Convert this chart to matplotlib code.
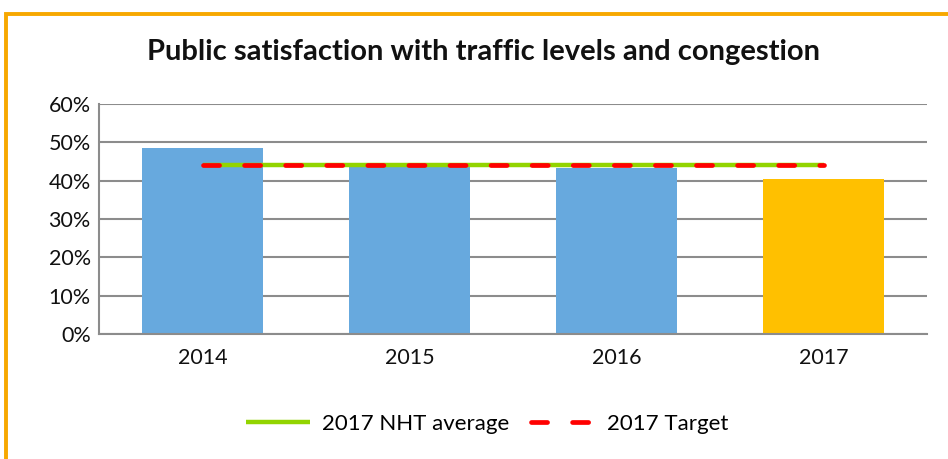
import numpy as np
import matplotlib.pyplot as plt
from matplotlib.patches import Rectangle
from matplotlib.ticker import PercentFormatter

plt.rcParams['font.family'] = ['Lato', 'DejaVu Sans']

# data
years = ['2014', '2015', '2016', '2017']
satisfaction = [48.5, 43.5, 43.4, 40.4]
bar_colors = ['#67a9de', '#67a9de', '#67a9de', '#ffc000']
nht_average = [44.2, 44.2, 44.2, 44.2]
target_2017 = [44.2, 44.2, 44.2, 44.2]

fig = plt.figure(figsize=(9.48, 4.59), dpi=100)
W, H = 948, 459
ax = fig.add_axes([99 / W, 1 - 334 / H, (927 - 99) / W, (334 - 104) / H])

x = np.arange(len(years))
ax.bar(x, satisfaction, width=0.58, color=bar_colors, zorder=2)
ax.plot(x, nht_average, color='#92d400', lw=3.2, label='2017 NHT average', zorder=3,
        solid_capstyle='butt')
ax.plot(x, target_2017, color='#ff0000', lw=3.4, label='2017 Target', zorder=4,
        linestyle=(0, (3.4, 5.3)), dash_capstyle='round')

ax.set_xlim(-0.5, 3.5)
ax.set_ylim(0, 60)
ax.set_yticks(range(0, 61, 10))
ax.yaxis.set_major_formatter(PercentFormatter(decimals=0))
ax.set_xticks(x)
ax.set_xticklabels(years)
ax.grid(axis='y', color='#8c8c8c', lw=1.5, zorder=0)
for s in ['top', 'right']:
    ax.spines[s].set_visible(False)
for s in ['left', 'bottom']:
    ax.spines[s].set_color('#8c8c8c')
    ax.spines[s].set_linewidth(1.5)
ax.tick_params(axis='both', length=0, labelsize=15.5, colors='#111111')
ax.tick_params(axis='y', pad=6)
ax.tick_params(axis='x', pad=10)

fig.text(483 / W, 1 - 52 / H, 'Public satisfaction with traffic levels and congestion',
         ha='center', va='center', fontsize=21, fontweight='bold', color='#111111')

leg = fig.legend(loc='center', bbox_to_anchor=(487 / W, 1 - 424 / H), ncol=2, frameon=False,
                 fontsize=16, handlelength=2.9, columnspacing=1.0, handletextpad=0.5)

# orange outer border
fig.patches.append(Rectangle((6 / W, -0.1), 1.2, 1 - 14 / H + 0.1, transform=fig.transFigure,
                             fill=False, edgecolor='#f7a800', lw=2.8))

fig.savefig('out.png', dpi=100)
